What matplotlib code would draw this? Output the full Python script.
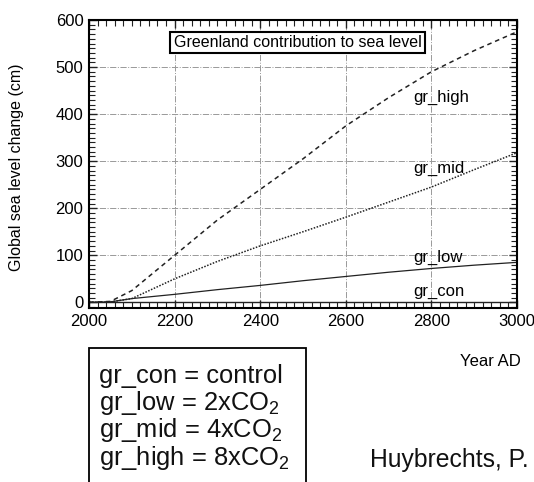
import matplotlib.pyplot as plt
from matplotlib.ticker import MultipleLocator
from matplotlib.patches import Rectangle

plt.rcParams['font.family'] = ['Liberation Sans', 'DejaVu Sans']
plt.rcParams['mathtext.fontset'] = 'custom'
plt.rcParams['mathtext.rm'] = 'Liberation Sans'

# values
years = [2000, 2050, 2100, 2200, 2300, 2400, 2500, 2600, 2700, 2800, 2900, 3000]
gr_high = [0, 2, 25, 100, 175, 240, 305, 375, 435, 490, 535, 575]
gr_mid = [0, 1, 8, 50, 87, 120, 150, 181, 213, 245, 282, 318]
gr_low = [0, 1, 8, 17, 27, 36, 46, 55, 64, 72, 79, 85]
gr_con = [0, 0, 0, 0, 0, 0, 0, 0, 0, 0, 0, 0]

x_ticks = [2000, 2200, 2400, 2600, 2800, 3000]
y_ticks = [0, 100, 200, 300, 400, 500, 600]
legend_lines = ['gr_con = control', 'gr_low = 2xCO$_2$',
                'gr_mid = 4xCO$_2$', 'gr_high = 8xCO$_2$']

fig = plt.figure(figsize=(5.34, 4.82), dpi=100)
ax = fig.add_axes([0.1667, 0.361, 0.8015, 0.5975])

ax.plot(years, gr_high, color='#222222', lw=1.1, linestyle=(0, (3, 2.5)))
ax.plot(years, gr_mid, color='#222222', lw=1.1, linestyle=(0, (1, 1)))
ax.plot(years, gr_low, color='#222222', lw=0.9)
ax.plot(years, gr_con, color='#222222', lw=1.0)

ax.set_xlim(2000, 3000)
ax.set_ylim(-12, 600)
ax.set_xticks(x_ticks)
ax.set_yticks(y_ticks)
ax.xaxis.set_minor_locator(MultipleLocator(20))
ax.yaxis.set_minor_locator(MultipleLocator(10))
ax.tick_params(which='both', direction='in', top=True, right=True,
               labelsize=12, color='#222222')
ax.tick_params(axis='x', pad=4)
ax.tick_params(axis='y', pad=4)
ax.tick_params(which='major', length=6, width=1)
ax.tick_params(which='minor', length=4, width=0.8)
ax.grid(True, which='major', color='#999999', linestyle='-.', lw=0.7)
for s in ax.spines.values():
    s.set_linewidth(1.5)

ax.set_ylabel('Global sea level change (cm)', fontsize=11.5)
ax.yaxis.set_label_coords(-0.152, 0.49)

ax.text(2487, 552, 'Greenland contribution to sea level', fontsize=11.5,
        ha='center', va='center',
        bbox=dict(boxstyle='square,pad=0.2', fc='white', ec='black', lw=1.5))

ax.text(2757, 436, 'gr_high', fontsize=12, va='center')
ax.text(2757, 285, 'gr_mid', fontsize=12, va='center')
ax.text(2757, 96, 'gr_low', fontsize=12, va='center')
ax.text(2757, 23, 'gr_con', fontsize=12, va='center')

fig.text(490 / 534, 1 - 362 / 482, 'Year AD', fontsize=12, ha='center', va='center')

# legend box at the bottom left
fig.patches.append(Rectangle((89 / 534, -0.05), 217 / 534, 1 - 348 / 482 + 0.05,
                             transform=fig.transFigure, fill=False,
                             ec='black', lw=1.3))
baselines = [383, 410, 437, 465]
for txt, yb in zip(legend_lines, baselines):
    fig.text(99 / 534, 1 - yb / 482, txt, fontsize=18.4, color='#111111',
             va='baseline')

fig.text(370 / 534, 1 - 467 / 482, 'Huybrechts, P.', fontsize=17.8,
         color='#111111', va='baseline')

fig.savefig('out.png', dpi=100)
